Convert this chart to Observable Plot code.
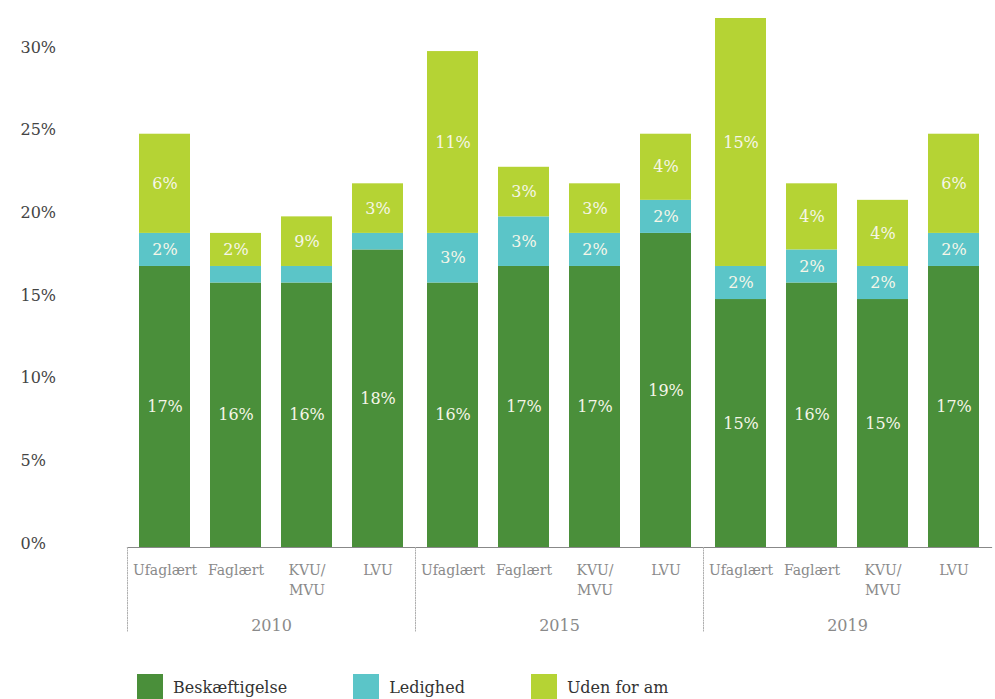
<!DOCTYPE html>
<html>
<head>
<meta charset="utf-8">
<script src="https://cdn.jsdelivr.net/npm/d3@7"></script>
<script src="https://cdn.jsdelivr.net/npm/@observablehq/plot@0.6"></script>
<style>
  body { margin: 0; background: #fff; font-family: "DejaVu Serif", serif; }
  #legend { display: flex; padding-left: 137px; margin-top: 14px; font-size: 16px; color: #333; }
  .item { display: flex; align-items: center; margin-right: 66px; }
  .sw { width: 26px; height: 26px; margin-right: 10px; }
</style>
</head>
<body>
<div id="chart"></div>
<div id="legend"></div>
<script>
const years = ["2010", "2015", "2019"];
const categories = ["Ufaglært", "Faglært", "KVU/\nMVU", "LVU"];
const seriesNames = ["Beskæftigelse", "Ledighed", "Uden for am"];
const colors = ["#4a8f3a", "#5bc5c8", "#b5d334"];
// values per year, per category (order: Ufaglært, Faglært, KVU/MVU, LVU)
const beskaeftigelse = [[17, 16, 16, 18], [16, 17, 17, 19], [15, 16, 15, 17]];
const ledighed       = [[2, 1, 1, 1],     [3, 3, 2, 2],     [2, 2, 2, 2]];
const udenFor        = [[6, 2, 3, 3],     [11, 3, 3, 4],    [15, 4, 4, 6]];
// label texts as printed in the chart ("" = no label)
const labelsBesk = [["17%", "16%", "16%", "18%"], ["16%", "17%", "17%", "19%"], ["15%", "16%", "15%", "17%"]];
const labelsLed  = [["2%", "", "", ""], ["3%", "3%", "2%", "2%"], ["2%", "2%", "2%", "2%"]];
const labelsUden = [["6%", "2%", "9%", "3%"], ["11%", "3%", "3%", "4%"], ["15%", "4%", "4%", "6%"]];
const yTicks = [0, 5, 10, 15, 20, 25, 30];

const seriesValues = [beskaeftigelse, ledighed, udenFor];
const seriesLabels = [labelsBesk, labelsLed, labelsUden];
const data = [];
years.forEach((yr, yi) => {
  categories.forEach((cat, ci) => {
    seriesNames.forEach((s, si) => {
      data.push({year: yr, cat, series: s, value: seriesValues[si][yi][ci], label: seriesLabels[si][yi][ci]});
    });
  });
});
const catTicks = years.flatMap(yr => categories.map(cat => ({year: yr, cat})));

const font = "DejaVu Serif";
const plot = Plot.plot({
  width: 995,
  height: 660,
  marginLeft: 118,
  marginRight: 0,
  marginTop: 18,
  marginBottom: 113,
  style: {fontFamily: font, background: "#fff"},
  fx: {domain: years, padding: 0, range: [127, 991], axis: null},
  x: {domain: categories, paddingInner: 0.2778, paddingOuter: 0.139, axis: null},
  y: {domain: [0, 32], axis: null},
  color: {domain: seriesNames, range: colors},
  marks: [
    Plot.barY(data, {fx: "year", x: "cat", y: "value", fill: "series"}),
    Plot.text(data, Plot.stackY({fx: "year", x: "cat", y: "value", text: "label", fill: "#f6f6e8", fontSize: 16})),
    Plot.frame({anchor: "bottom", facet: "super", stroke: "#888", strokeWidth: 1.2}),
    Plot.frame({anchor: "left", stroke: "#b0b0b0", strokeDasharray: "1,1.5", insetTop: 529, insetBottom: -85}),
    Plot.text(catTicks, {fx: "year", x: "cat", text: "cat", frameAnchor: "bottom", lineAnchor: "top", dy: 13, lineHeight: 1.45, fill: "#8a8a8a", fontSize: 14}),
    Plot.axisFx({anchor: "bottom", tickSize: 0, tickPadding: 72, fill: "#8a8a8a", fontSize: 16, label: null}),
    Plot.axisY(yTicks, {anchor: "left", tickSize: 0, tickPadding: 0, textAnchor: "start", dx: -107, dy: -4, tickFormat: d => d + "%", fill: "#444", fontSize: 16, label: null})
  ]
});
document.getElementById("chart").appendChild(plot);

const legend = document.getElementById("legend");
seriesNames.forEach((s, i) => {
  const it = document.createElement("div");
  it.className = "item";
  const sw = document.createElement("div");
  sw.className = "sw";
  sw.style.background = colors[i];
  const t = document.createElement("span");
  t.textContent = s;
  it.appendChild(sw);
  it.appendChild(t);
  legend.appendChild(it);
});
</script>
</body>
</html>
